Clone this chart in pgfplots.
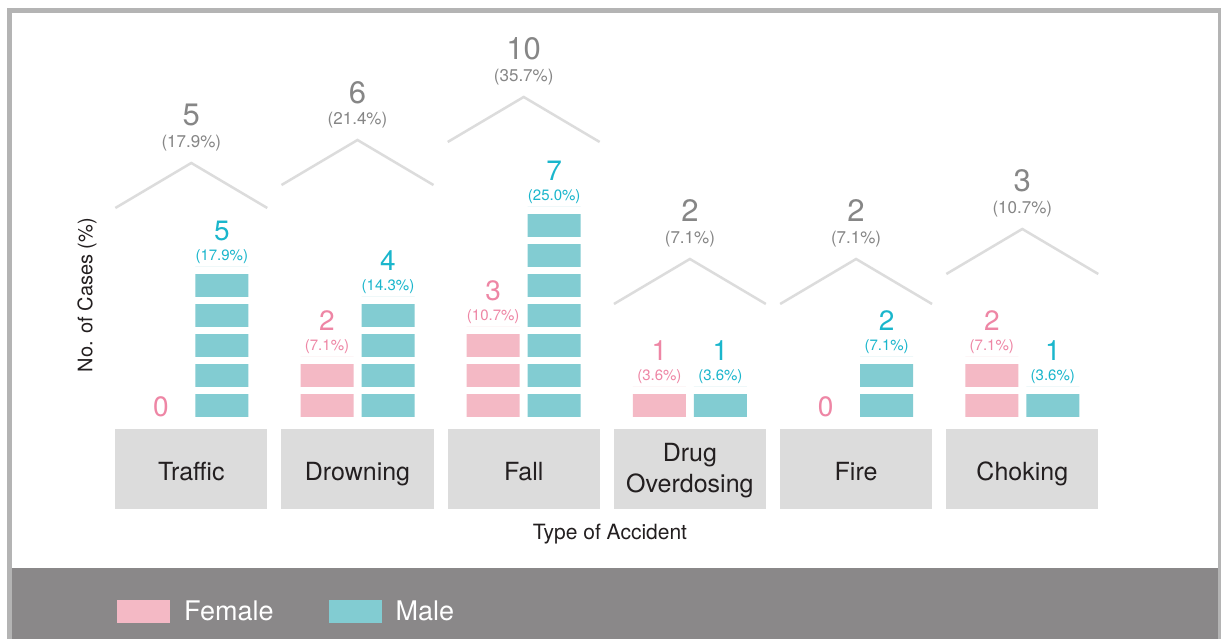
\documentclass[border=0pt]{standalone}
\usepackage{fontspec}
\setmainfont{TeX Gyre Heros}
\usepackage{pgfplots}
\pgfplotsset{compat=1.18}
\usepackage{pgfplotstable}

\definecolor{fbar}{HTML}{F4B9C5}
\definecolor{mbar}{HTML}{82CCD2}
\definecolor{ftxt}{HTML}{EE86A5}
\definecolor{mtxt}{HTML}{1AB6CC}
\definecolor{ttxt}{HTML}{868686}
\definecolor{roofc}{HTML}{DCDCDC}
\definecolor{catbox}{HTML}{DCDCDC}
\definecolor{cattxt}{HTML}{231F20}
\definecolor{band}{HTML}{8A8889}
\definecolor{borderc}{HTML}{B4B4B4}

\newcommand{\catlab}[1]{\raisebox{0pt}[29pt][6pt]{#1}}

\pgfplotstableread{
x n pct
0 0 0
1 2 7.1
2 3 10.7
3 1 3.6
4 0 0
5 2 7.1
}\female
\pgfplotstableread{
x n pct
0 5 17.9
1 4 14.3
2 7 25.0
3 1 3.6
4 2 7.1
5 1 3.6
}\male
\pgfplotstableread{
x n pct peak
0 5 17.9 8.467
1 6 21.4 9.233
2 10 35.7 10.667
3 2 7.1 5.267
4 2 7.1 5.267
5 3 10.7 6.267
}\total

\pgfplotsset{
  cntlabel/.style 2 args={draw=none, mark=none, forget plot,
    point meta=\thisrow{n}, nodes near coords,
    nodes near coords style={anchor=base, inner sep=0pt, text=#1, xshift=#2,
      font=\fontsize{28}{28}\selectfont},
  },
  pctlabel/.style 2 args={draw=none, mark=none, forget plot,
    point meta=\thisrow{pct},
    restrict expr to domain={\thisrow{n}}{0.5:100},
    nodes near coords={(\pgfmathprintnumber[fixed,fixed zerofill,precision=1]{\pgfplotspointmeta}\%)},
    nodes near coords style={anchor=base, inner sep=0pt, text=#1, xshift=#2, yshift=6pt,
      font=\fontsize{15}{15}\selectfont},
  },
}

\begin{document}
\begin{tikzpicture}
% frame and band
\fill[white] (0pt,0pt) rectangle (1221pt,639pt);
\fill[borderc] (7pt,0pt) rectangle (1221pt,631pt);
\fill[white] (12pt,0pt) rectangle (1218pt,626pt);
\fill[band] (12pt,0pt) rectangle (1218pt,71pt);

\begin{axis}[
  at={(0pt,0pt)}, anchor=south west,
  x=166.2pt, y=30pt,
  xmin=-1.151, xmax=6.1955, ymin=-7.4, ymax=13.9,
  axis line style={draw=none},
  major tick length=0pt,
  ytick=\empty,
  xtick={0,...,5},
  xticklabels={\catlab{Traffic},\catlab{Drowning},\catlab{Fall},{\strut Drug\\Overdosing},\catlab{Fire},\catlab{Choking}},
  xticklabel style={fill=catbox, text=cattxt, minimum width=152pt, minimum height=80pt,
     align=center, font=\fontsize{25}{31}\selectfont, anchor=north, yshift=210pt, inner sep=0pt},
  /pgf/number format/assume math mode=true,
  clip=false,
  legend columns=-1,
  legend style={at={(0.09582,0.0438)}, anchor=west, draw=none, fill=none, text=white,
     font=\fontsize{27}{30}\selectfont, inner sep=0pt,
     /tikz/every odd column/.append style={column sep=12pt},
     /tikz/every even column/.append style={column sep=53pt}},
]
\addplot[ybar, bar width=53pt, bar shift=-30.5pt, fill=fbar, draw=none,
  restrict expr to domain={\thisrow{n}}{0.5:100},
  legend image code/.code={\fill[fbar] (0pt,-11.5pt) rectangle (53pt,11.5pt);}]
  table[x=x, y=n] {\female};
\addplot[ybar, bar width=53pt, bar shift=30.5pt, fill=mbar, draw=none,
  restrict expr to domain={\thisrow{n}}{0.5:100},
  legend image code/.code={\fill[mbar] (0pt,-11.5pt) rectangle (53pt,11.5pt);}]
  table[x=x, y=n] {\male};
\legend{Female,Male}

% gaps between unit blocks
\pgfplotsinvokeforeach{0,...,9}{
  \fill[white] (axis cs:-0.5,#1.7667) rectangle (axis cs:5.5,#1.9999);
}

% roofs
\addplot[roofc, line width=2.5pt, forget plot] coordinates {(-0.457,6.967) (0,8.467) (0.457,6.967)};
\addplot[roofc, line width=2.5pt, forget plot] coordinates {(0.543,7.733) (1,9.233) (1.457,7.733)};
\addplot[roofc, line width=2.5pt, forget plot] coordinates {(1.543,9.167) (2,10.667) (2.457,9.167)};
\addplot[roofc, line width=2.5pt, forget plot] coordinates {(2.543,3.767) (3,5.267) (3.457,3.767)};
\addplot[roofc, line width=2.5pt, forget plot] coordinates {(3.543,3.767) (4,5.267) (4.457,3.767)};
\addplot[roofc, line width=2.5pt, forget plot] coordinates {(4.543,4.767) (5,6.267) (5.457,4.767)};

% bar labels
\addplot[cntlabel={ftxt}{-30.5pt}] table[x=x, y expr={\thisrow{n}+(\thisrow{n}>0)*0.8667}] {\female};
\addplot[cntlabel={mtxt}{30.5pt}] table[x=x, y expr={\thisrow{n}+(\thisrow{n}>0)*0.8667}] {\male};
\addplot[pctlabel={ftxt}{-30.5pt}] table[x=x, y=n] {\female};
\addplot[pctlabel={mtxt}{30.5pt}] table[x=x, y=n] {\male};

% totals
\addplot[draw=none, mark=none, forget plot, point meta=\thisrow{n}, nodes near coords,
    nodes near coords style={anchor=base, inner sep=0pt, text=ttxt, yshift=37pt,
      font=\fontsize{31}{31}\selectfont}]
  table[x=x, y=peak] {\total};
\addplot[draw=none, mark=none, forget plot, point meta=\thisrow{pct},
    nodes near coords={(\pgfmathprintnumber[fixed,fixed zerofill,precision=1]{\pgfplotspointmeta}\%)},
    nodes near coords style={anchor=base, inner sep=0pt, text=ttxt, yshift=15.5pt,
      font=\fontsize{17}{17}\selectfont}]
  table[x=x, y=peak] {\total};
\end{axis}

\node[rotate=90, font=\fontsize{20}{24}\selectfont, text=cattxt] at (87pt,344pt) {No. of Cases (\%)};
\node[font=\fontsize{21}{25}\selectfont, text=cattxt] at (610pt,105pt) {Type of Accident};
\pgfresetboundingbox
\useasboundingbox (0pt,0pt) rectangle (1221pt,639pt);
\end{tikzpicture}
\end{document}
